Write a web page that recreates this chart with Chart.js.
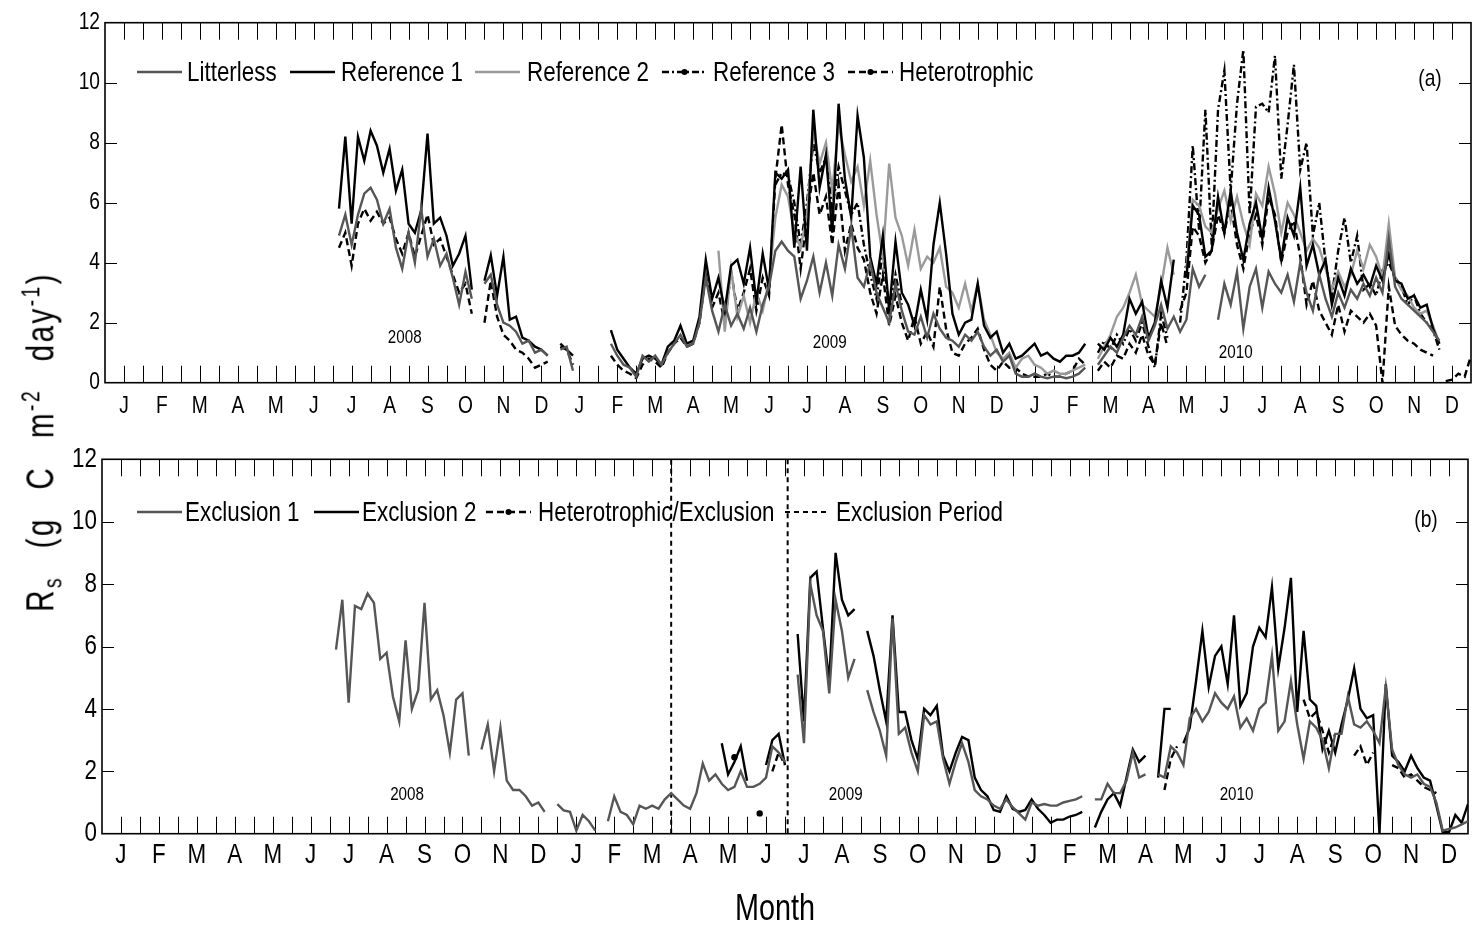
<!DOCTYPE html>
<html>
<head>
<meta charset="utf-8">
<script src="https://cdn.jsdelivr.net/npm/chart.js@4.4.1/dist/chart.umd.min.js"></script>
<style>
  html, body { margin: 0; padding: 0; background: #fff; }
  #wrap { position: relative; width: 1473px; height: 928px; overflow: hidden; background: #fff; }
  #topBox { position: absolute; left: 0; top: 0; width: 1473px; height: 440px; }
  #botBox { position: absolute; left: 0; top: 440px; width: 1473px; height: 488px; }
  #ytitle {
    position: absolute; left: 42px; top: 442px;
    transform: translate(-50%, -50%) rotate(-90deg) scaleX(0.78);
    white-space: nowrap; color: #000;
    font-family: 'Liberation Sans', Arial, sans-serif; font-size: 38px;
    word-spacing: 22px; letter-spacing: 3px;
  }
  #ytitle sub, #ytitle sup { font-size: 25px; }
</style>
</head>
<body>
<div id="wrap">
  <div id="topBox"><canvas id="topChart"></canvas></div>
  <div id="botBox"><canvas id="botChart"></canvas></div>
  <div id="ytitle">R<sub>s</sub> (g C m<sup>-2</sup> day<sup>-1</sup>)</div>
</div>
<script>
// ---- time base: one sample every sixth of a month, months counted from Jan 2008 ----
const SAMPLES_PER_MONTH = 6;
const FIRST_SAMPLE = 36;              // 1 Jul 2008
const monthLetters = ['J','F','M','A','M','J','J','A','S','O','N','D'];
const yearLabels = ['2008', '2009', '2010'];
const blank = n => Array(n).fill(null);

// ---- panel (a): soil respiration, g C m-2 day-1 ----
const litterless = [
  null,4.9,5.6,4.6,5.6,6.3,   6.5,6.1,5.3,5.8,4.5,3.8,   5.0,4.0,5.8,4.2,4.8,3.9,
  4.3,3.5,2.6,3.7,2.8,null,   3.3,3.6,2.6,2.0,1.9,1.7,   1.3,1.4,1.0,1.1,0.9,null,
  1.1,1.2,0.4,null,null,null, null,null,1.3,0.9,0.6,0.5, 0.2,0.9,0.7,0.9,0.6,1.0,
  1.3,1.6,1.2,1.3,2.0,3.5,    2.4,1.7,2.6,1.9,2.3,1.8,   2.5,1.7,2.6,3.2,4.4,4.7,
  4.4,4.2,2.8,3.4,4.2,3.0,    4.0,2.9,4.6,3.8,5.2,3.5,   3.2,4.0,3.0,2.5,2.0,3.3,
  2.4,1.7,1.6,2.2,1.5,2.3,    1.8,1.5,1.4,1.2,1.6,1.4,   1.7,1.2,0.9,1.1,0.7,0.9,
  0.3,0.2,0.2,0.3,0.2,0.15,   0.2,0.2,0.15,0.2,0.3,0.5,  null,0.6,0.9,1.2,1.0,1.5,
  1.9,1.6,2.2,1.4,1.9,2.6,    1.8,2.2,1.7,2.1,3.8,3.2,   3.6,null,2.1,3.3,2.6,3.7,
  1.8,3.2,3.8,2.5,3.7,3.3,    3.0,3.6,2.7,4.0,3.0,2.4,   3.6,2.8,2.2,3.0,2.5,3.1,
  2.8,3.3,2.9,3.5,3.0,4.8,    3.2,2.8,2.6,2.4,2.2,2.0,   1.7,1.4,null,null,null,null,
  null
];
const reference1 = [
  null,5.8,8.2,5.3,8.2,7.4,   8.4,7.9,7.0,7.8,6.4,7.1,   5.3,5.0,5.75,8.3,5.3,5.5,
  4.9,3.9,4.3,4.9,3.1,null,   3.4,4.25,2.9,4.2,2.1,2.2,  1.5,1.4,1.2,1.1,0.9,null,
  1.3,1.1,0.9,null,null,null, null,null,1.75,1.1,0.8,0.5, 0.3,0.8,0.9,0.8,0.6,1.2,
  1.4,1.9,1.3,1.4,2.2,4.1,    2.8,3.5,2.4,3.9,4.1,3.3,   4.5,2.7,4.3,3.1,7.0,6.8,
  7.1,4.5,7.2,4.4,9.1,6.5,    7.6,5.0,9.3,6.8,5.5,8.9,   7.5,4.2,3.3,4.9,2.4,4.7,
  3.0,2.6,1.9,3.1,2.1,4.6,    6.0,4.3,2.3,1.6,2.0,2.1,   3.3,1.9,1.5,1.7,1.0,1.3,
  0.8,0.9,1.1,1.3,0.9,1.0,    0.8,0.7,0.9,0.9,1.0,1.3,   null,1.3,1.1,1.5,1.2,1.6,
  2.8,2.3,2.7,1.5,2.0,3.4,    2.5,4.1,null,3.5,5.9,5.6,  4.2,4.4,6.2,5.0,6.4,5.0,
  4.1,5.3,6.0,4.8,6.5,5.4,    4.1,5.5,4.9,6.5,3.9,4.6,   3.6,4.1,2.6,3.5,2.9,3.8,
  3.3,3.6,3.2,3.9,3.4,4.3,    3.4,3.3,2.8,2.9,2.5,2.6,   1.8,1.3,null,null,null,null,
  null
];
const reference2 = [
  ...blank(60),
  null,4.4,1.7,3.8,2.2,2.9,   2.0,3.0,2.4,3.4,5.5,6.6,   6.2,5.0,4.5,5.6,8.4,7.3,
  8.0,6.4,8.6,7.6,6.7,7.2,    5.9,7.4,5.6,4.2,7.3,5.5,   4.9,3.9,5.1,3.8,4.2,4.0,
  4.5,3.2,3.0,2.5,3.3,2.4,    3.3,2.1,1.6,1.0,0.8,1.0,   0.5,0.8,0.9,0.6,0.5,0.3,
  0.4,0.3,0.3,0.4,0.5,0.6,    null,0.8,1.2,1.6,2.2,2.5,  3.0,3.6,2.6,2.4,2.2,3.2,
  4.5,3.6,null,3.8,6.1,5.9,   5.2,5.0,5.8,6.4,5.4,6.2,   5.3,4.6,6.3,5.9,7.2,6.3,
  5.0,6.0,5.6,5.0,4.4,4.8,    4.5,3.8,3.1,3.7,3.2,3.6,   4.4,3.8,4.6,4.2,3.5,5.3,
  3.5,3.1,2.9,2.5,2.3,2.4,    1.9,1.3,null,null,null,null,
  null
];
const reference3 = [
  ...blank(66),
  null,null,null,null,6.6,7.0, 6.9,6.0,4.6,6.0,8.0,7.0,  7.5,5.8,7.2,6.4,5.6,6.0,
  4.6,3.6,2.8,4.4,2.4,3.6,    2.6,null,null,null,null,null,
  ...blank(24),
  null,1.0,1.4,1.1,1.6,1.3,   1.8,1.4,2.0,1.2,0.5,2.3,   1.5,null,2.0,4.1,7.9,5.1,
  9.1,4.6,9.1,10.4,6.4,9.3,   11.1,5.6,9.2,9.3,9.0,10.9, 6.8,8.6,10.6,7.1,8.0,4.9,
  6.0,4.0,2.9,4.4,5.5,4.0,    4.9,3.1,3.3,2.9,3.75,4.0,  3.5,3.2,2.6,2.9,2.3,2.0,
  1.75,1.1,null,null,null,null,
  null
];
const heterotrophic = [
  null,4.5,5.0,3.9,5.3,5.8,   5.4,5.7,5.3,5.5,4.8,4.3,   5.0,4.2,4.9,5.6,4.6,4.8,
  4.2,3.6,3.0,3.3,2.3,null,   2.0,3.4,2.2,1.6,1.4,1.1,   1.0,0.8,0.5,0.6,0.7,null,
  1.2,1.1,0.6,null,null,null, null,null,0.9,0.6,0.4,0.3, 0.15,0.6,0.8,0.7,0.5,1.0,
  1.3,1.5,1.2,1.3,2.0,3.6,    2.5,3.0,2.0,3.7,2.4,3.0,   3.8,2.4,3.5,2.9,6.8,8.6,
  6.6,5.6,3.8,5.5,7.0,5.6,    6.2,4.6,6.6,4.4,5.3,4.5,   4.1,3.0,2.3,3.6,1.9,2.9,
  2.0,1.4,2.2,1.3,1.7,1.2,    3.2,1.8,1.0,0.9,1.3,1.5,   1.8,1.1,0.6,0.4,0.7,0.5,
  0.5,0.3,0.2,0.2,0.2,0.3,    0.2,0.2,0.3,0.4,0.8,0.6,   null,0.4,0.7,0.5,0.9,0.8,
  1.3,1.0,1.6,0.9,0.6,2.0,    1.2,null,2.4,3.0,5.2,4.9,  4.0,4.4,5.6,5.0,6.0,4.6,
  3.8,5.0,5.6,4.6,6.2,5.6,    4.0,5.0,5.4,4.2,2.6,3.4,   2.4,2.0,1.6,2.6,1.7,2.4,
  2.2,2.0,2.3,1.9,0.0,3.2,    1.9,1.6,1.4,1.3,1.1,1.0,   0.9,null,0.05,0.1,0.3,0.2,
  0.9
];

// ---- panel (b): litter exclusion plots ----
const exclusion1 = [
  null,5.9,7.5,4.2,7.3,7.2,   7.7,7.4,5.6,5.8,4.4,3.6,   6.2,4.0,4.6,7.4,4.3,4.6,
  3.8,2.6,4.3,4.5,2.5,null,   2.7,3.5,2.0,3.4,1.7,1.4,   1.4,1.2,0.9,1.0,0.7,null,
  0.95,0.75,0.7,0.1,0.6,0.4,  0.1,null,0.4,1.2,0.7,0.6,  0.3,0.9,0.8,0.9,0.8,1.1,
  1.3,1.1,0.9,0.8,1.3,2.25,   1.7,1.9,1.6,1.4,1.5,2.0,   1.5,1.5,1.6,1.8,2.8,2.6,
  2.3,null,5.1,2.9,8.0,7.0,   6.5,4.5,7.5,6.5,5.0,5.6,   null,4.6,3.9,3.3,2.5,6.9,
  3.2,3.4,2.6,2.0,3.8,3.5,    3.6,2.4,1.6,2.3,2.9,2.3,   1.4,1.2,1.1,0.9,0.8,1.1,
  0.85,0.65,0.45,1.0,0.9,0.95, 0.9,0.9,1.0,1.05,1.1,1.2, null,1.1,1.1,1.6,1.3,1.3,
  1.7,2.6,1.8,1.9,null,1.9,   1.8,2.8,2.6,2.2,3.7,4.0,   3.6,3.9,4.5,4.2,4.0,4.4,
  3.4,3.7,3.3,4.0,4.2,5.7,    3.3,3.6,4.9,3.5,2.4,3.6,   3.4,3.0,2.1,3.2,3.2,4.4,
  3.5,3.4,3.6,3.3,2.9,4.7,    2.7,2.2,1.9,1.8,1.9,1.6,   1.5,1.0,0.1,0.15,0.2,0.3,
  0.4
];
const exclusion2 = [
  ...blank(60),
  null,null,2.9,1.9,2.3,2.8,  1.7,null,null,2.2,3.0,3.2,  2.2,null,6.4,3.6,8.2,8.4,
  6.6,4.9,9.0,7.5,7.0,7.2,    null,6.5,5.7,4.6,3.6,7.0,  3.9,3.9,3.0,2.4,4.0,3.8,
  4.1,2.5,2.0,2.6,3.1,3.0,    1.8,1.4,1.2,0.76,0.7,1.2,  0.8,0.7,0.76,1.1,0.8,0.6,
  0.35,0.45,0.45,0.55,0.6,0.7, null,0.2,0.7,1.1,1.3,0.9, 1.8,2.7,2.3,2.5,null,1.8,
  4.0,4.0,null,2.9,3.4,4.9,   6.5,4.7,5.7,6.0,4.8,7.0,   4.1,4.5,6.0,6.6,6.3,7.9,
  5.3,6.6,8.2,3.9,6.5,4.3,    4.1,2.7,3.3,2.6,3.5,4.3,   5.3,4.0,3.7,3.8,0.0,4.8,
  2.5,2.3,2.0,2.5,2.1,1.8,    1.7,0.9,0.05,0.05,0.6,0.35,
  0.95
];
const heterotrophicExclusion = [
  ...blank(60),
  null,null,null,null,2.45,null, null,null,0.65,null,2.0,2.6, 2.2,null,null,null,null,null,
  ...blank(54),
  1.4,2.4,2.8,null,null,null,
  ...blank(12),
  null,null,null,null,4.3,3.7, 3.9,3.3,2.6,3.2,null,null, 2.5,2.8,2.2,2.6,null,null,
  2.2,2.1,1.8,1.9,1.7,1.5,    1.4,1.3,null,null,null,null,
  null
];
// start and end of the exclusion period, in months from Jan 2008
const exclusionPeriod = [15.0, 18.07];

// ---- styling ----
const FONT = "'Liberation Sans', Arial, sans-serif";
const SQUEEZE = 0.8;                  // narrow lettering
const DARK = '#565656';
const LIGHT = '#9a9a9a';
const DASH = [7, 4];
const DASH_DOT = [7, 3, 2, 3];

function toPoints(values) {
  return values.map((v, i) => ({ x: (FIRST_SAMPLE + i) / SAMPLES_PER_MONTH, y: v }));
}
// a lone reading (no neighbour on either side) is shown as a dot
function loneDot(ctx) {
  const d = ctx.dataset.data, i = ctx.dataIndex;
  if (!d[i] || d[i].y == null) return 0;
  const prev = i > 0 ? d[i - 1].y : null;
  const next = i < d.length - 1 ? d[i + 1].y : null;
  return (prev == null && next == null) ? 3.2 : 0;
}
function series(label, values, color, dash, width) {
  return {
    label, data: toPoints(values), borderColor: color, backgroundColor: color,
    borderWidth: width || 2.4, borderDash: dash || [], tension: 0, spanGaps: false,
    pointRadius: loneDot, pointBorderWidth: 0, pointHoverRadius: 0, fill: false
  };
}
function narrowText(ctx, text, x, y, size, align) {
  ctx.save();
  ctx.font = `${size}px ${FONT}`;
  ctx.fillStyle = '#000';
  ctx.textAlign = align;
  ctx.textBaseline = 'middle';
  ctx.translate(x, y);
  ctx.scale(SQUEEZE, 1);
  ctx.fillText(text, 0, 0);
  ctx.restore();
}

const framePlugin = {
  id: 'frame',
  beforeDatasetsDraw(chart, args, opts) {
    const { ctx, chartArea: { left, right, top, bottom }, scales: { x, y } } = chart;
    ctx.save();
    ctx.strokeStyle = '#000';
    ctx.lineWidth = 1;
    ctx.beginPath();
    for (let k = 1; k < 72; k++) {
      const px = Math.round(x.getPixelForValue(k / 2)) + 0.5;
      ctx.moveTo(px, bottom); ctx.lineTo(px, bottom - opts.xTick);
      ctx.moveTo(px, top); ctx.lineTo(px, top + opts.xTick);
    }
    for (let v = 2; v < 12; v += 2) {
      const py = Math.round(y.getPixelForValue(v)) + 0.5;
      ctx.moveTo(left, py); ctx.lineTo(left + opts.yTick, py);
      ctx.moveTo(right, py); ctx.lineTo(right - opts.yTick, py);
    }
    ctx.stroke();
    ctx.lineWidth = 1.6;
    ctx.strokeRect(left, top, right - left, bottom - top);
    ctx.restore();
  }
};

// month letters, y values and the axis title, in narrow lettering
const axisLabelPlugin = {
  id: 'axisLabels',
  afterDraw(chart, args, opts) {
    const { ctx, chartArea: { left, bottom }, scales: { x, y } } = chart;
    x.ticks.forEach(t => narrowText(ctx, monthLetters[Math.floor(t.value) % 12],
      x.getPixelForValue(t.value), bottom + opts.xOffset, opts.size, 'center'));
    y.ticks.forEach(t => narrowText(ctx, String(t.value),
      left - 5, y.getPixelForValue(t.value), opts.size, 'right'));
    if (opts.title) narrowText(ctx, opts.title, opts.titleX, opts.titleY, opts.titleSize, 'center');
  }
};

const legendPlugin = {
  id: 'panelLegend',
  afterDatasetsDraw(chart, args, opts) {
    const { ctx } = chart;
    opts.items.forEach(it => {
      const ds = chart.data.datasets[it.ds];
      ctx.save();
      ctx.strokeStyle = ds.borderColor;
      ctx.lineWidth = ds.borderWidth;
      ctx.setLineDash(ds.borderDash || []);
      ctx.beginPath();
      ctx.moveTo(it.lineX, opts.y);
      ctx.lineTo(it.lineX + opts.lineLen, opts.y);
      ctx.stroke();
      ctx.setLineDash([]);
      if (it.dot) {
        ctx.fillStyle = ds.borderColor;
        ctx.beginPath();
        ctx.arc(it.lineX + opts.lineLen / 2, opts.y, 3, 0, Math.PI * 2);
        ctx.fill();
      }
      ctx.restore();
      narrowText(ctx, ds.label, it.textX, opts.y + 1, opts.size, 'left');
    });
  }
};

const textPlugin = {
  id: 'panelText',
  afterDatasetsDraw(chart, args, opts) {
    const { ctx, chartArea, scales: { x, y } } = chart;
    yearLabels.forEach((t, i) => {
      narrowText(ctx, t, x.getPixelForValue(opts.yearAt[i][0]), y.getPixelForValue(opts.yearAt[i][1]), opts.yearSize, 'center');
    });
    narrowText(ctx, opts.tag, chartArea.right - opts.tagDx, chartArea.top + opts.tagDy, opts.tagSize, 'center');
  }
};

function panelOptions(cfg) {
  return {
    responsive: true, maintainAspectRatio: false, animation: false,
    devicePixelRatio: 1, events: [],
    layout: { padding: { left: 0, right: cfg.padRight, top: cfg.padTop, bottom: 0 } },
    scales: {
      x: {
        type: 'linear', min: 0, max: 36,
        grid: { display: false, drawTicks: false }, border: { display: false },
        afterBuildTicks: s => { s.ticks = monthLetters.concat(monthLetters, monthLetters).map((_, i) => ({ value: i + 0.5 })); },
        ticks: { display: false, autoSkip: false },
        afterFit: s => { s.height = cfg.xHeight; }
      },
      y: {
        min: 0, max: 12,
        grid: { display: false, drawTicks: false }, border: { display: false },
        ticks: { display: false, stepSize: 2 },
        afterFit: s => { s.width = cfg.yWidth; }
      }
    },
    plugins: {
      legend: { display: false }, tooltip: { enabled: false },
      frame: { xTick: 17, yTick: 12 },
      axisLabels: cfg.axis,
      panelLegend: cfg.legend,
      panelText: cfg.text
    }
  };
}

new Chart(document.getElementById('topChart'), {
  type: 'line',
  data: {
    datasets: [
      series('Litterless', litterless, DARK),
      series('Reference 1', reference1, '#000'),
      series('Reference 2', reference2, LIGHT),
      series('Reference 3', reference3, '#000', DASH_DOT),
      series('Heterotrophic', heterotrophic, '#000', DASH)
    ]
  },
  options: panelOptions({
    padRight: 2, padTop: 22.7, xHeight: 57.3, yWidth: 105,
    axis: { size: 24, xOffset: 24 },
    legend: {
      y: 72, size: 28, lineLen: 45,
      items: [
        { ds: 0, lineX: 137, textX: 187 },
        { ds: 1, lineX: 290, textX: 341 },
        { ds: 2, lineX: 475, textX: 527 },
        { ds: 3, lineX: 662, textX: 713, dot: true },
        { ds: 4, lineX: 848, textX: 899, dot: true }
      ]
    },
    text: { yearSize: 19, yearAt: [[7.9, 1.49], [19.1, 1.32], [29.8, 0.99]], tag: '(a)', tagSize: 24, tagDx: 41, tagDy: 57 }
  }),
  plugins: [framePlugin, axisLabelPlugin, legendPlugin, textPlugin]
});

new Chart(document.getElementById('botChart'), {
  type: 'line',
  data: {
    datasets: [
      series('Exclusion 1', exclusion1, DARK),
      series('Exclusion 2', exclusion2, '#000'),
      series('Heterotrophic/Exclusion', heterotrophicExclusion, '#000', DASH),
      {
        label: 'Exclusion Period',
        data: [
          { x: exclusionPeriod[0], y: 0 }, { x: exclusionPeriod[0], y: 12 },
          { x: exclusionPeriod[0], y: null },
          { x: exclusionPeriod[1], y: 12 }, { x: exclusionPeriod[1], y: 0 }
        ],
        borderColor: '#000', borderWidth: 2, borderDash: [5, 4], pointRadius: 0,
        spanGaps: false, tension: 0, fill: false
      }
    ]
  },
  options: panelOptions({
    padRight: 5, padTop: 19.3, xHeight: 94.3, yWidth: 102,
    axis: { size: 28, xOffset: 22, title: 'Month', titleSize: 36, titleX: 775, titleY: 470 },
    legend: {
      y: 72, size: 28, lineLen: 45,
      items: [
        { ds: 0, lineX: 137, textX: 185 },
        { ds: 1, lineX: 314, textX: 362 },
        { ds: 2, lineX: 486, textX: 538, dot: true },
        { ds: 3, lineX: 785, textX: 836 }
      ]
    },
    text: { yearSize: 19, yearAt: [[8.04, 1.24], [19.6, 1.24], [29.9, 1.24]], tag: '(b)', tagSize: 24, tagDx: 42, tagDy: 60.7 }
  }),
  plugins: [framePlugin, axisLabelPlugin, legendPlugin, textPlugin]
});
</script>
</body>
</html>
